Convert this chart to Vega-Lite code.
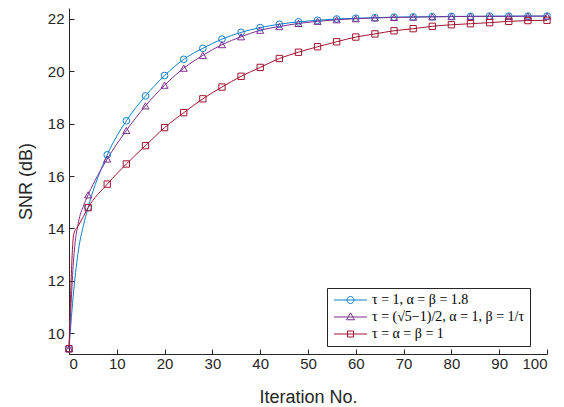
{
  "$schema": "https://vega.github.io/schema/vega-lite/v6.json",
  "width": 478,
  "height": 346,
  "autosize": "none",
  "padding": {"left": 69, "top": 8, "right": 17, "bottom": 53},
  "background": "white",
  "config": {
    "view": {"stroke": null},
    "font": "Liberation Sans",
    "axis": {
      "grid": false,
      "domainColor": "#262626",
      "tickColor": "#262626",
      "labelColor": "#262626",
      "titleColor": "#262626",
      "labelFont": "Liberation Sans",
      "titleFont": "Liberation Sans",
      "labelFontSize": 15,
      "titleFontSize": 18,
      "titleFontWeight": "normal",
      "tickSize": -5,
      "domainWidth": 1
    }
  },
  "data": {
    "values": [
      {"iter": 0, "s": "a", "snr": 9.40}, {"iter": 1, "s": "a", "snr": 11.65}, {"iter": 2, "s": "a", "snr": 13.2}, {"iter": 3, "s": "a", "snr": 14.1},
      {"iter": 4, "s": "a", "snr": 14.8}, {"iter": 8, "s": "a", "snr": 16.81}, {"iter": 12, "s": "a", "snr": 18.11}, {"iter": 16, "s": "a", "snr": 19.06},
      {"iter": 20, "s": "a", "snr": 19.84}, {"iter": 24, "s": "a", "snr": 20.46}, {"iter": 28, "s": "a", "snr": 20.88}, {"iter": 32, "s": "a", "snr": 21.23},
      {"iter": 36, "s": "a", "snr": 21.49}, {"iter": 40, "s": "a", "snr": 21.67}, {"iter": 44, "s": "a", "snr": 21.80}, {"iter": 48, "s": "a", "snr": 21.89},
      {"iter": 52, "s": "a", "snr": 21.95}, {"iter": 56, "s": "a", "snr": 22.0}, {"iter": 60, "s": "a", "snr": 22.03}, {"iter": 64, "s": "a", "snr": 22.05},
      {"iter": 68, "s": "a", "snr": 22.07}, {"iter": 72, "s": "a", "snr": 22.08}, {"iter": 76, "s": "a", "snr": 22.09}, {"iter": 80, "s": "a", "snr": 22.1},
      {"iter": 84, "s": "a", "snr": 22.1}, {"iter": 88, "s": "a", "snr": 22.11}, {"iter": 92, "s": "a", "snr": 22.11}, {"iter": 96, "s": "a", "snr": 22.11},
      {"iter": 100, "s": "a", "snr": 22.11},
      {"iter": 0, "s": "b", "snr": 9.40}, {"iter": 1, "s": "b", "snr": 12.9}, {"iter": 2, "s": "b", "snr": 14.25}, {"iter": 3, "s": "b", "snr": 14.85},
      {"iter": 4, "s": "b", "snr": 15.28}, {"iter": 8, "s": "b", "snr": 16.65}, {"iter": 12, "s": "b", "snr": 17.74}, {"iter": 16, "s": "b", "snr": 18.68},
      {"iter": 20, "s": "b", "snr": 19.47}, {"iter": 24, "s": "b", "snr": 20.12}, {"iter": 28, "s": "b", "snr": 20.61}, {"iter": 32, "s": "b", "snr": 21.02},
      {"iter": 36, "s": "b", "snr": 21.32}, {"iter": 40, "s": "b", "snr": 21.57}, {"iter": 44, "s": "b", "snr": 21.71}, {"iter": 48, "s": "b", "snr": 21.83},
      {"iter": 52, "s": "b", "snr": 21.91}, {"iter": 56, "s": "b", "snr": 21.97}, {"iter": 60, "s": "b", "snr": 22.01}, {"iter": 64, "s": "b", "snr": 22.04},
      {"iter": 68, "s": "b", "snr": 22.06}, {"iter": 72, "s": "b", "snr": 22.07}, {"iter": 76, "s": "b", "snr": 22.08}, {"iter": 80, "s": "b", "snr": 22.09},
      {"iter": 84, "s": "b", "snr": 22.1}, {"iter": 88, "s": "b", "snr": 22.1}, {"iter": 92, "s": "b", "snr": 22.1}, {"iter": 96, "s": "b", "snr": 22.11},
      {"iter": 100, "s": "b", "snr": 22.11},
      {"iter": 0, "s": "c", "snr": 9.40}, {"iter": 1, "s": "c", "snr": 13.78}, {"iter": 2, "s": "c", "snr": 14.12}, {"iter": 3, "s": "c", "snr": 14.45},
      {"iter": 4, "s": "c", "snr": 14.79}, {"iter": 8, "s": "c", "snr": 15.69}, {"iter": 12, "s": "c", "snr": 16.46}, {"iter": 16, "s": "c", "snr": 17.16},
      {"iter": 20, "s": "c", "snr": 17.85}, {"iter": 24, "s": "c", "snr": 18.42}, {"iter": 28, "s": "c", "snr": 18.95}, {"iter": 32, "s": "c", "snr": 19.40},
      {"iter": 36, "s": "c", "snr": 19.81}, {"iter": 40, "s": "c", "snr": 20.15}, {"iter": 44, "s": "c", "snr": 20.49}, {"iter": 48, "s": "c", "snr": 20.73},
      {"iter": 52, "s": "c", "snr": 20.94}, {"iter": 56, "s": "c", "snr": 21.13}, {"iter": 60, "s": "c", "snr": 21.31}, {"iter": 64, "s": "c", "snr": 21.43},
      {"iter": 68, "s": "c", "snr": 21.55}, {"iter": 72, "s": "c", "snr": 21.63}, {"iter": 76, "s": "c", "snr": 21.72}, {"iter": 80, "s": "c", "snr": 21.78},
      {"iter": 84, "s": "c", "snr": 21.82}, {"iter": 88, "s": "c", "snr": 21.86}, {"iter": 92, "s": "c", "snr": 21.91}, {"iter": 96, "s": "c", "snr": 21.94},
      {"iter": 100, "s": "c", "snr": 21.95}
    ]
  },
  "encoding": {
    "x": {
      "field": "iter", "type": "quantitative",
      "scale": {"domain": [0, 100], "nice": false},
      "axis": {"values": [0, 10, 20, 30, 40, 50, 60, 70, 80, 90, 100], "title": "Iteration No.", "labelPadding": 7, "titlePadding": 17}
    },
    "y": {
      "field": "snr", "type": "quantitative",
      "scale": {"domain": [9.2, 22.42], "nice": false, "zero": false},
      "axis": {"values": [10, 12, 14, 16, 18, 20, 22], "title": "SNR (dB)", "labelPadding": 10, "titlePadding": 12}
    },
    "color": {
      "field": "s", "type": "nominal",
      "scale": {"domain": ["a", "b", "c"], "range": ["#0F7FCB", "#7E2F8E", "#A2142F"]},
      "legend": {
        "title": null,
        "orient": "none",
        "legendX": 258,
        "legendY": 280,
        "padding": 5,
        "strokeColor": "#262626",
        "fillColor": "white",
        "symbolType": "circle",
        "symbolSize": 100,
        "symbolStrokeWidth": 1,
        "symbolFillColor": "transparent",
        "symbolOpacity": 1,
        "labelOffset": 26,
        "labelFont": "Liberation Serif",
        "labelFontSize": 14,
        "labelColor": "black",
        "labelLimit": 300,
        "rowPadding": 3,
        "labelExpr": "datum.value === 'a' ? 'τ = 1, α = β = 1.8' : datum.value === 'b' ? 'τ = (√5−1)/2, α = 1, β = 1/τ' : 'τ = α = β = 1'",
        "encode": {
          "symbols": {
            "update": {
              "shape": {"signal": "datum.value === 'a' ? 'M-1,0H5.6M1.6,0A0.7,0.7,0,1,0,3,0A0.7,0.7,0,1,0,1.6,0Z' : datum.value === 'b' ? 'M-1,0H5.6M2.3,-0.85L3.1,0.55L1.5,0.55Z' : 'M-1,0H5.6M1.7,-0.6H2.9V0.6H1.7Z'"},
              "fill": {"value": "transparent"}
            }
          }
        }
      }
    }
  },
  "layer": [
    {
      "mark": {"type": "line", "strokeWidth": 1, "interpolate": "monotone"}
    },
    {
      "transform": [{"filter": "datum.s === 'a' && datum.iter % 4 == 0"}],
      "mark": {"type": "point", "shape": "circle", "filled": false, "size": 45, "strokeWidth": 1, "opacity": 1}
    },
    {
      "transform": [{"filter": "datum.s === 'b' && datum.iter % 4 == 0"}],
      "mark": {"type": "point", "shape": "triangle-up", "filled": false, "size": 50, "strokeWidth": 1, "opacity": 1}
    },
    {
      "transform": [{"filter": "datum.s === 'c' && datum.iter % 4 == 0"}],
      "mark": {"type": "point", "shape": "square", "filled": false, "size": 40, "strokeWidth": 1, "opacity": 1}
    }
  ]
}
